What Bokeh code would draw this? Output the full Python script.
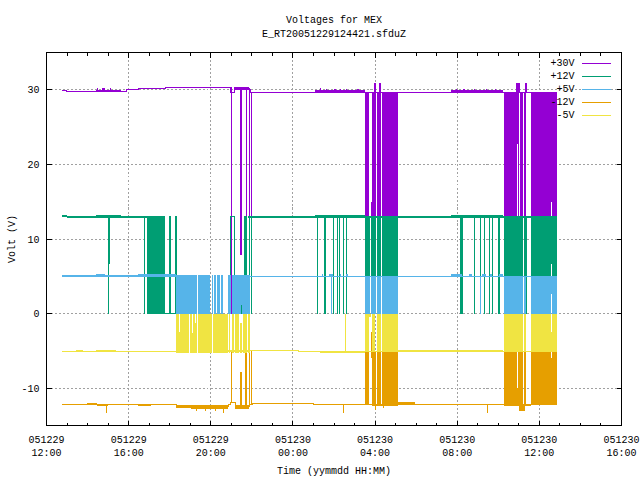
from bokeh.plotting import figure
from bokeh.models import (LinearAxis, FixedTicker, Label, BoxAnnotation, ColumnDataSource, Range1d, Title)
from bokeh.embed import file_html
from bokeh.resources import INLINE

nan = float("nan")

title_lines = ["Voltages for MEX", "E_RT20051229124421.sfduZ"]
x_title = "Time (yymmdd HH:MM)"
y_title = "Volt (V)"
x_ticks = [0, 4, 8, 12, 16, 20, 24, 28]
x_minor = list(range(0, 29))
x_labels = ["051229\n12:00", "051229\n16:00", "051229\n20:00", "051230\n00:00",
            "051230\n04:00", "051230\n08:00", "051230\n12:00", "051230\n16:00"]
y_ticks = [-10, 0, 10, 20, 30]
series_names = ["+30V", "+12V", "+5V", "-12V", "-5V"]
series_colors = ["#9400D3", "#009E73", "#56B4E9", "#E69F00", "#F0E442"]

# time = hours after 051229 12:00; plain levels (time, volt), nan = no sample on that level
v30_t = [0.76, 1.0, 1.0, 3.9, 3.9, 4.47, 4.47, 5.78, 5.78, 8.98, 8.98, 9.14, 9.14, 9.82, 9.82, 9.92, 9.92, 24.87]
v30_v = [29.86, 29.86, 29.76, 29.76, 30.0, 30.0, 30.2, 30.2, 30.33, 30.33, 29.6, 29.6, 30.33, 30.33, 30.0, 30.0, 29.65, 29.65]
v12_t = [0.76, 1.0, 1.0, 5.78, 5.78, 8.95, 9.19, 9.19, 9.63, 9.78, 9.78, 9.82, 24.87]
v12_v = [13.1, 13.1, 12.95, 12.95, nan, 13.0, 13.0, nan, 13.0, 13.0, nan, 12.95, 12.95]
v5_t = [0.76, 6.32, 6.32, 9.92, 24.87]
v5_v = [5.05, 5.05, nan, 4.98, 4.98]
vm12_t = [0.76, 6.32, 6.32, 8.85, 8.85, 8.95, 8.95, 9.19, 9.19, 9.87, 9.87, 10.0, 10.0, 13.0, 13.0, 24.87]
vm12_v = [-12.18, -12.18, -12.45, -12.45, -12.2, -12.2, -11.9, -11.9, -12.5, -12.5, -12.2, -12.2, -12.05, -12.05, -12.15, -12.15]
vm5_t = [0.76, 6.32, 6.32, 8.85, 9.92, 9.92, 12.26, 12.26, 24.87]
vm5_v = [-5.08, -5.08, nan, -5.0, -5.0, -4.95, -4.95, -5.05, -5.05]

# dropouts and noisy stretches: (start, end, low volt, high volt)
v30_blocks = [
    (2.42, 3.64, 29.76, 30.0), (2.45, 2.5, 29.76, 30.25), (2.7, 2.85, 29.76, 30.2), (3.1, 3.15, 29.76, 30.2),
    (4.47, 5.78, 30.1, 30.3), (5.78, 6.8, 30.2, 30.42),
    (9.14, 9.82, 29.95, 30.4), (13.09, 15.52, 29.65, 29.95), (13.3, 13.35, 29.65, 30.2),
    (13.62, 13.67, 29.65, 30.15), (14.0, 14.1, 29.65, 30.15), (14.3, 14.35, 29.65, 30.1),
    (14.6, 14.65, 29.65, 30.15), (15.1, 15.2, 29.65, 30.1), (19.71, 22.25, 29.65, 29.95),
    (19.95, 20.0, 29.65, 30.1), (20.3, 20.4, 29.65, 30.15), (20.8, 20.85, 29.65, 30.1),
    (21.4, 21.45, 29.65, 30.15), (21.85, 21.9, 29.65, 30.1),
    (9.00, 9.05, 0, 29.6), (9.44, 9.53, 7.8, 30.3), (9.73, 9.78, 0, 30.3),
    (9.87, 9.92, 0, 30.3), (9.97, 10.02, 0, 29.7),
    (15.52, 15.72, 0, 29.7), (15.81, 15.86, 6.7, 15), (15.86, 16.06, 0, 29.7),
    (16.09, 16.30, 0, 29.7), (16.35, 17.13, 0, 29.7),
    (22.30, 22.93, 0, 29.7), (22.93, 22.98, 22.8, 29.7), (22.98, 23.03, 0, 29.7),
    (23.08, 23.22, 0, 29.7), (23.27, 23.37, 0, 29.7), (23.61, 24.58, 0, 29.7),
    (24.58, 24.62, 15, 29.7), (24.62, 24.87, 0, 29.7),
    (15.96, 16.06, 29.7, 30.9), (16.20, 16.30, 29.7, 30.9),
    (22.88, 23.08, 29.7, 30.9), (23.32, 23.42, 29.7, 30.9),
]
v12_blocks = [
    (2.42, 3.64, 12.95, 13.2), (13.09, 15.52, 12.95, 13.2), (19.71, 22.25, 12.95, 13.2),
    (3.01, 3.05, 0, 13), (3.05, 3.10, 6.7, 13), (4.77, 4.82, 0, 13), (4.87, 5.78, 0, 13.1),
    (5.98, 6.07, 0, 13.1), (6.27, 6.37, 0, 13.1), (5.78, 6.32, -0.07, 0.07),
    (8.95, 9.00, 0, 13), (9.14, 9.19, 0, 13), (9.63, 9.78, 0, 13), (9.87, 9.92, 0, 13),
    (9.97, 10.02, 0, 13), (9.48, 9.53, 0, 1.2),
    (13.19, 13.24, 0, 13), (13.53, 13.63, 0, 13), (13.96, 14.01, 0, 13), (14.16, 14.21, 0, 13),
    (14.26, 14.31, 0, 13), (14.45, 14.50, 0, 13), (14.60, 14.65, 0, 13),
    (15.52, 15.76, 0, 13), (15.81, 15.86, 2.7, 13), (15.86, 16.06, 0, 13),
    (16.09, 16.30, 0, 13), (16.35, 17.13, 0, 13),
    (20.15, 20.30, 0, 13), (20.83, 20.88, 0, 13), (21.13, 21.18, 0, 13), (21.32, 21.37, 0, 13),
    (21.57, 21.62, 0, 13), (21.71, 21.76, 0, 13), (22.01, 22.06, 0, 13),
    (22.30, 23.22, 0, 13.1), (23.27, 23.42, 0, 13.1), (23.61, 24.58, 0, 13.1),
    (24.58, 24.62, 6.6, 13.1), (24.62, 24.87, 0, 13.1),
]
v5_blocks = [
    (2.42, 2.86, 5.0, 5.25), (4.47, 6.32, 5.05, 5.3), (13.40, 13.45, 5.0, 5.25),
    (13.75, 13.95, 5.0, 5.3), (14.30, 14.36, 5.0, 5.25), (14.60, 14.66, 5.0, 5.25),
    (19.71, 20.25, 5.0, 5.3), (20.55, 20.70, 5.0, 5.25), (21.20, 21.40, 5.0, 5.3),
    (21.60, 21.70, 5.0, 5.25), (22.05, 22.25, 5.0, 5.25),
    (6.32, 7.34, 0, 5.2), (7.39, 7.95, 0, 5.2), (8.04, 8.12, 0, 5.2), (8.18, 8.26, 0, 5.2),
    (8.31, 8.46, 0, 5.2), (8.51, 8.59, 0, 5.2), (8.85, 8.98, 0, 5.2), (9.05, 9.14, 0, 5.2),
    (9.14, 9.48, 0, 5.2), (9.48, 9.53, 1.2, 5.2), (9.53, 9.92, 0, 5.2),
    (13.87, 13.92, 0, 5), (15.52, 15.76, 0, 5.05), (15.81, 16.06, 0, 5.05),
    (16.09, 16.30, 0, 5.05), (16.35, 17.13, 0, 5.05), (21.13, 21.18, 0, 5),
    (22.30, 23.22, 0, 5.05), (23.27, 23.37, 0, 5.05), (23.61, 24.58, 0, 5.05),
    (24.58, 24.62, 2.6, 5.05), (24.62, 24.87, 0, 5.05),
]
vm12_blocks = [
    (1.98, 2.47, -12.2, -11.95), (2.47, 3.0, -12.4, -12.15), (2.91, 2.95, -13.3, -12.2),
    (4.47, 5.1, -12.4, -12.15), (6.32, 7.05, -12.7, -12.3), (7.05, 8.85, -12.8, -12.3),
    (7.3, 7.35, -13.0, -12.4), (7.7, 7.75, -13.0, -12.4), (8.2, 8.25, -13.0, -12.4),
    (8.58, 8.62, -13.3, -12.6), (9.19, 9.87, -12.8, -12.3), (17.13, 17.96, -12.2, -11.9),
    (14.45, 14.50, -13.3, -12.2), (21.46, 21.50, -13.3, -12.2),
    (15.86, 17.13, -12.4, -12.2), (16.0, 16.05, -12.9, -12.2), (16.4, 16.45, -12.7, -12.2),
    (22.30, 23.61, -12.4, -12.2), (23.0, 23.3, -13.0, -12.2),
    (9.00, 9.05, -12, -5), (9.44, 9.53, -12.2, -7.8), (9.68, 9.78, -12.2, -5),
    (9.87, 9.92, -12.2, -5), (9.97, 10.02, -12.1, -5),
    (15.52, 15.72, -12.2, -5), (15.81, 15.86, -6, -2.5), (15.86, 16.06, -12.2, -5),
    (16.09, 16.30, -12.2, -5), (16.35, 17.13, -12.2, -5),
    (22.30, 22.93, -12.2, -5), (22.93, 22.98, -12.2, -10), (22.98, 23.22, -12.2, -5),
    (23.27, 23.37, -12.2, -5), (23.61, 24.58, -12.3, -5), (24.58, 24.62, -12.3, -6),
    (24.62, 24.87, -12.3, -5),
]
vm5_blocks = [
    (1.45, 1.79, -5.05, -4.85), (2.42, 3.39, -5.05, -4.85),
    (13.33, 15.52, -5.25, -4.95), (17.13, 17.96, -5.0, -4.85), (17.96, 22.25, -5.2, -4.9),
    (6.32, 6.46, -5.3, 0), (6.46, 6.51, -5.3, -2.5), (6.51, 6.95, -5.3, 0), (7.00, 7.10, -5.3, 0),
    (7.10, 7.15, -5.3, -2.6), (7.15, 7.24, -5.3, 0), (7.24, 7.29, -5.3, -1.3), (7.29, 7.34, -5.3, 0),
    (7.39, 8.07, -5.3, 0), (8.12, 8.85, -5.3, 0), (8.90, 8.95, -5.3, 0), (9.05, 9.14, -5.3, 0),
    (9.19, 9.39, -5.3, 0), (9.44, 9.53, -5.3, -1.3), (9.58, 9.78, -5.3, 0), (9.82, 9.92, -5.3, 0),
    (14.55, 14.60, -5, 0), (15.52, 15.72, -5.05, 0), (15.72, 15.81, -0.5, -0.1),
    (15.86, 16.01, -5.05, 0), (16.09, 16.30, -5.05, 0), (16.35, 17.13, -5.05, 0),
    (22.30, 23.22, -5.05, 0), (23.27, 23.37, -5.05, 0), (23.61, 24.58, -5.05, 0),
    (24.58, 24.62, -5.05, -2.5), (24.62, 24.87, -5.05, 0),
]

FONT = "Liberation Mono"
FS = "10px"

p = figure(frame_width=575, frame_height=373, output_backend="svg", toolbar_location=None,
           x_range=Range1d(0, 28), y_range=Range1d(-15, 35),
           min_border_left=46, min_border_right=19, min_border_top=52, min_border_bottom=55,
           background_fill_color="white", border_fill_color="white")
p.stylesheets = [":host{shape-rendering:crispEdges}"]
p.outline_line_color = "black"
p.outline_line_width = 1
p.title = None

def style_axis(ax, major_len, labels=None):
    ax.axis_line_color = "black"
    ax.major_tick_line_color = "black"
    ax.minor_tick_line_color = "black"
    ax.major_tick_in = major_len
    ax.major_tick_out = 0
    ax.minor_tick_in = 3
    ax.minor_tick_out = 0
    ax.major_label_text_font = FONT
    ax.major_label_text_font_size = FS
    ax.major_label_text_color = "black"
    ax.axis_label_text_font = FONT
    ax.axis_label_text_font_size = FS
    ax.axis_label_text_font_style = "normal"
    ax.axis_label_text_color = "black"
    if labels is not None:
        ax.major_label_overrides = labels

xlab = dict(zip(x_ticks, x_labels))
ylab = {v: str(v) for v in y_ticks}

p.xaxis.ticker = FixedTicker(ticks=x_ticks, minor_ticks=x_minor)
p.yaxis.ticker = FixedTicker(ticks=y_ticks)
style_axis(p.xaxis[0], 5, xlab)
style_axis(p.yaxis[0], 5, ylab)
p.xaxis.major_label_standoff = 9
p.yaxis.major_label_standoff = 7
p.xaxis.axis_label = x_title
p.yaxis.axis_label = y_title
p.xaxis.axis_label_standoff = 4
p.yaxis.axis_label_standoff = 0

top = LinearAxis(ticker=FixedTicker(ticks=x_ticks, minor_ticks=x_minor))
style_axis(top, 5, {v: "" for v in x_ticks})
top.major_label_standoff = 0
p.add_layout(top, "above")
right = LinearAxis(ticker=FixedTicker(ticks=y_ticks))
style_axis(right, 5, {v: "" for v in y_ticks})
right.major_label_standoff = 0
p.add_layout(right, "right")

# blank panel that lifts the two title lines off the frame
p.add_layout(Title(text=" ", standoff=0, text_font=FONT, text_font_size="9px"), "above")
for text in reversed(title_lines):
    p.add_layout(Title(text=text, align="center", offset=-2, standoff=1, text_font=FONT,
                       text_font_size=FS, text_font_style="normal", text_color="black"), "above")

for g in (p.xgrid[0], p.ygrid[0]):
    g.grid_line_color = "#A0A0A0"
    g.grid_line_dash = "2 2"
    g.grid_line_width = 1
    g.level = "underlay"
p.xgrid[0].ticker = FixedTicker(ticks=x_ticks)
p.ygrid[0].ticker = FixedTicker(ticks=y_ticks)

levels = [(v30_t, v30_v), (v12_t, v12_v), (v5_t, v5_v), (vm12_t, vm12_v), (vm5_t, vm5_v)]
blocks = [v30_blocks, v12_blocks, v5_blocks, vm12_blocks, vm5_blocks]
for (lt, lv), bl, col in zip(levels, blocks, series_colors):
    p.line(lt, lv, line_color=col, line_width=1.3)
    src = ColumnDataSource(dict(left=[b[0] for b in bl], right=[b[1] for b in bl],
                                bottom=[b[2] for b in bl], top=[b[3] for b in bl]))
    p.quad(left="left", right="right", bottom="bottom", top="top", source=src,
           fill_color=col, line_color=None)

for i, (name, col) in enumerate(zip(series_names, series_colors)):
    y = 63.3 + 13 * i
    p.add_layout(Label(x=574, y=y, x_units="canvas", y_units="canvas", text=name, text_align="right",
                       text_baseline="middle", text_font=FONT, text_font_size=FS, text_color="black"))
    p.add_layout(BoxAnnotation(left=581, right=610, top=y - 0.6, bottom=y + 0.6,
                               left_units="canvas", right_units="canvas",
                               top_units="canvas", bottom_units="canvas",
                               fill_color=col, fill_alpha=1, line_color=None, level="overlay"))

open("out.html", "w").write(file_html(p, INLINE))
